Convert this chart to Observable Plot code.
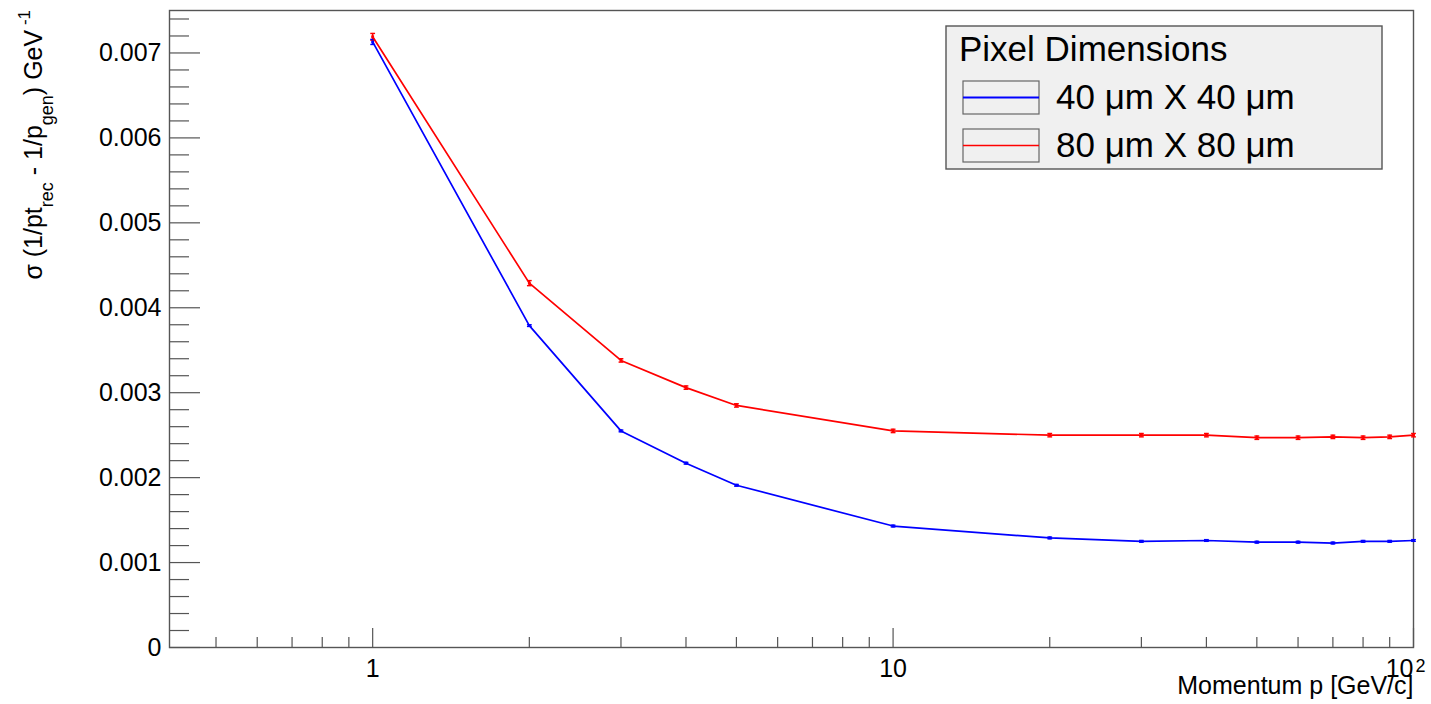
<!DOCTYPE html>
<html>
<head>
<meta charset="utf-8">
<script src="https://cdn.jsdelivr.net/npm/d3@7"></script>
<script src="https://cdn.jsdelivr.net/npm/@observablehq/plot@0.6"></script>
<style>
  html, body { margin: 0; padding: 0; background: #ffffff; }
  #chart { position: relative; width: 1431px; height: 704px; }
</style>
</head>
<body>
<div id="chart"></div>
<script>
// Momentum points (GeV/c)
const momentum = [1, 2, 3, 4, 5, 10, 20, 30, 40, 50, 60, 70, 80, 90, 100];

// Resolution sigma(1/pt_rec - 1/p_gen) in GeV^-1, 40 um x 40 um pixels
const sigma40 = [0.00713, 0.00379, 0.00255, 0.00217, 0.00191, 0.00143, 0.00129, 0.00125,
                 0.00126, 0.00124, 0.00124, 0.00123, 0.00125, 0.00125, 0.00126];
const err40   = [0.00003, 0.00001, 0.00001, 0.00001, 0.00001, 0.00001, 0.00001, 0.00001,
                 0.00001, 0.00001, 0.00001, 0.00001, 0.00001, 0.00001, 0.00001];

// Same quantity, 80 um x 80 um pixels
const sigma80 = [0.00719, 0.00429, 0.00338, 0.00306, 0.00285, 0.00255, 0.00250, 0.00250,
                 0.00250, 0.00247, 0.00247, 0.00248, 0.00247, 0.00248, 0.00250];
const err80   = [0.00004, 0.00003, 0.00002, 0.00002, 0.00002, 0.00002, 0.00002, 0.00002,
                 0.00002, 0.00002, 0.00002, 0.00002, 0.00002, 0.00002, 0.00002];

const seriesNames  = ["40 \u03bcm X 40 \u03bcm", "80 \u03bcm X 80 \u03bcm"];
const seriesColors = ["#0000ff", "#ff0000"];
const legendTitle  = "Pixel Dimensions";

// Axis ticks and labels
const xMajor = [1, 10, 100];
const xLabels = ["1", "10"];
const xPowerLabel = {base: "10", exponent: "2"};
const xMinor = [0.5, 0.6, 0.7, 0.8, 0.9, 2, 3, 4, 5, 6, 7, 8, 9, 20, 30, 40, 50, 60, 70, 80, 90];
const yMajor = [0, 0.001, 0.002, 0.003, 0.004, 0.005, 0.006, 0.007];
const yLabels = ["0", "0.001", "0.002", "0.003", "0.004", "0.005", "0.006", "0.007"];
const yMinor = d3.range(1, 38).map(i => i * 0.0002).filter(v => Math.abs(v * 1000 - Math.round(v * 1000)) > 1e-9);

const xTitle = "Momentum p [GeV/c]";

const rows = [];
[[sigma40, err40], [sigma80, err80]].forEach(([vals, errs], k) => {
  momentum.forEach((p, i) => rows.push({p, s: vals[i], e: errs[i], series: seriesNames[k]}));
});

const W = 1431, H = 704;
const mL = 169, mR = 18, mT = 10, mB = 57;
const innerW = W - mL - mR, innerH = H - mT - mB;
const axisColor = "#555555";
const font = "'Liberation Sans', Arial, Helvetica, sans-serif";

// short horizontal bar used as an error-bar cap
const capSymbol = {
  draw(context, size) {
    const w = Math.sqrt(size / Math.PI);
    context.moveTo(-w, 0);
    context.lineTo(w, 0);
  }
};

const plot = Plot.plot({
  width: W,
  height: H,
  marginLeft: mL,
  marginRight: mR,
  marginTop: mT,
  marginBottom: mB,
  style: {fontFamily: font, background: "#ffffff", color: "#000000"},
  x: {type: "log", domain: [0.407, 100], axis: null},
  y: {domain: [0, 0.0075], axis: null},
  color: {domain: seriesNames, range: seriesColors},
  marks: [
    // tick marks drawn inward from the left and bottom edges
    Plot.ruleY(yMajor, {y: d => d, insetRight: innerW - 31, stroke: axisColor, strokeWidth: 1.2}),
    Plot.ruleY(yMinor, {y: d => d, insetRight: innerW - 20, stroke: axisColor, strokeWidth: 1.2}),
    Plot.ruleX(xMajor, {x: d => d, insetTop: innerH - 19, stroke: axisColor, strokeWidth: 1.2}),
    Plot.ruleX(xMinor, {x: d => d, insetTop: innerH - 10, stroke: axisColor, strokeWidth: 1.2}),
    Plot.frame({stroke: axisColor, strokeWidth: 1.4}),
    // tick labels
    Plot.axisY(yMajor, {anchor: "left", tickSize: 0, tickPadding: 8, fontSize: 25,
      tickFormat: d => yLabels[yMajor.indexOf(d)], label: null}),
    Plot.text(xMajor.slice(0, 2), {x: d => d, text: (d, i) => xLabels[i], frameAnchor: "bottom",
      dy: 29, fontSize: 25, textAnchor: "middle"}),
    Plot.text([xMajor[2]], {x: d => d, text: () => xPowerLabel.base, frameAnchor: "bottom",
      dy: 29, dx: 0, fontSize: 25, textAnchor: "end"}),
    Plot.text([xMajor[2]], {x: d => d, text: () => xPowerLabel.exponent, frameAnchor: "bottom",
      dy: 24, dx: 2, fontSize: 18, textAnchor: "start"}),
    Plot.text([xTitle], {frameAnchor: "bottom-right", dy: 46, fontSize: 25, textAnchor: "end"}),
    // error bars
    Plot.ruleX(rows, {x: "p", y1: d => d.s - d.e, y2: d => d.s + d.e, stroke: "series", strokeWidth: 1.6}),
    Plot.dot(rows, {x: "p", y: d => d.s - d.e, symbol: capSymbol, r: 2.4, stroke: "series", strokeWidth: 1.4}),
    Plot.dot(rows, {x: "p", y: d => d.s + d.e, symbol: capSymbol, r: 2.4, stroke: "series", strokeWidth: 1.4}),
    // series lines and markers
    Plot.line(rows, {x: "p", y: "s", z: "series", stroke: "series", strokeWidth: 1.7}),
    Plot.dot(rows, {x: "p", y: "s", symbol: "square", r: 1.6, fill: "series"})
  ]
});

document.getElementById("chart").appendChild(plot);

const svg = d3.select(plot);

// y-axis title with sub/superscripts
const yt = svg.append("text")
  .attr("transform", "translate(42,10) rotate(-90)")
  .attr("text-anchor", "end")
  .attr("font-family", font)
  .attr("font-size", 25)
  .attr("fill", "#000");
yt.append("tspan").text("\u03c3 (1/pt");
yt.append("tspan").attr("font-size", 18).attr("dy", 11).text("rec");
yt.append("tspan").attr("dy", -11).text(" - 1/p");
yt.append("tspan").attr("font-size", 18).attr("dy", 11).text("gen");
yt.append("tspan").attr("dy", -11).text(") GeV");
yt.append("tspan").attr("font-size", 17).attr("dy", -12).text(" -1");

// legend box
const lg = svg.append("g").attr("font-family", font).attr("text-anchor", "start");
lg.append("rect").attr("x", 946).attr("y", 26).attr("width", 436).attr("height", 143)
  .attr("fill", "#f0f0f0").attr("stroke", axisColor).attr("stroke-width", 1.4);
lg.append("text").attr("x", 959).attr("y", 61).attr("text-anchor", "start")
  .attr("font-size", 35).attr("fill", "#000").text(legendTitle);
seriesNames.forEach((name, i) => {
  const top = 81 + i * 48;
  lg.append("rect").attr("x", 963).attr("y", top).attr("width", 76).attr("height", 33)
    .attr("fill", "none").attr("stroke", "#666").attr("stroke-width", 1.2);
  lg.append("line").attr("x1", 963).attr("x2", 1039).attr("y1", top + 16.5).attr("y2", top + 16.5)
    .attr("stroke", seriesColors[i]).attr("stroke-width", i === 0 ? 2 : 1.6);
  lg.append("text").attr("x", 1056).attr("y", top + 28).attr("text-anchor", "start")
    .attr("font-size", 35).attr("fill", "#000").text(name);
});
</script>
</body>
</html>
